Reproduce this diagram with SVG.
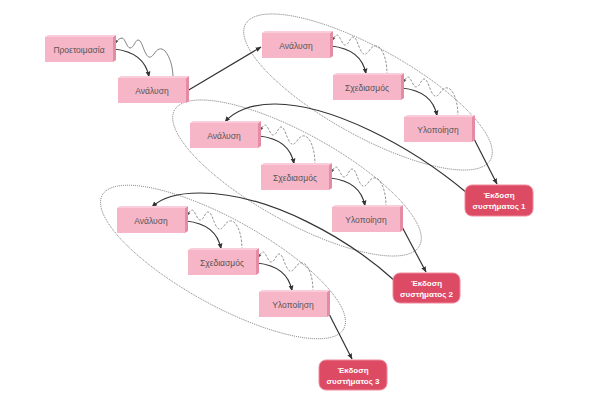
<svg xmlns="http://www.w3.org/2000/svg" width="599" height="400" viewBox="0 0 599 400">
<defs>
<marker id="ah" viewBox="0 0 10 10" refX="9" refY="5" markerWidth="5" markerHeight="5" orient="auto">
<path d="M0,1 L10,5 L0,9 z" fill="#333"/>
</marker>
<marker id="ahs" viewBox="0 0 10 10" refX="9" refY="5" markerWidth="4" markerHeight="4" orient="auto">
<path d="M0,1 L10,5 L0,9 z" fill="#555"/>
</marker>
<g id="box">
<path d="M68,0 L71,-2 L71,23 L68,25 z" fill="#e58ca5"/>
<path d="M0,0 L3,-2 L71,-2 L68,0 z" fill="#f9cdd9"/>
<rect x="0" y="0" width="68" height="25" fill="#f6b6c8"/>
</g>
<g id="pair">
<path class="main" d="M1,13 C20,15 33,24 36,41" marker-end="url(#ah)"/>
</g>
<g id="wave">
<path d="M57,42 C57,31 55,21 50,15 C46,11 42,13 39,18 C35,23 33,22 30,16 C27,9 26,4 23,4 C20,4 19,12 15,12 C12,12 10,2 7,2 C5,2 4,5 3,7" marker-end="url(#ahs)"/>
</g>
</defs>
<style>
.lbl{font-family:"Liberation Sans",Arial,sans-serif;font-size:8.5px;fill:#555;text-anchor:middle}
.rl{font-family:"Liberation Sans",Arial,sans-serif;font-size:8px;font-weight:bold;fill:#fff;text-anchor:middle}
.main{fill:none;stroke:#333;stroke-width:1.2}
.wv{fill:none;stroke:#666;stroke-width:0.8}
.dw{fill:none;stroke:#777;stroke-width:0.8;stroke-dasharray:2.5,1.5}
.ell{fill:none;stroke:#666;stroke-width:0.8;stroke-dasharray:1,1}
.red{fill:#dc4a63;stroke:#f08a9c;stroke-width:1}
</style>
<rect width="599" height="400" fill="#ffffff"/>

<g id="ellipses">
<ellipse class="ell" cx="368" cy="92" rx="140" ry="44" transform="rotate(29 368 92)"/>
<ellipse class="ell" cx="297" cy="178" rx="140" ry="44" transform="rotate(29 297 178)"/>
<ellipse class="ell" cx="223" cy="262" rx="138" ry="43" transform="rotate(29 223 262)"/>
</g>

<g id="connectors">
<g transform="translate(113,36)"><use href="#pair"/><g class="wv"><path d="M60,42 C60,31 57,21 52,15 C48,11 44,13 41,18 C37,23 35,22 32,16 C29,9 28,4 25,4 C22,4 21,12 17,12 C14,12 12,2 9,2 C6,2 4,5 3,7" marker-end="url(#ahs)"/></g></g>
<path class="main" d="M187,91 L261,47" marker-end="url(#ah)"/>
<g transform="translate(330,33)"><use href="#pair"/><g class="dw"><use href="#wave"/></g></g>
<g transform="translate(401,75)"><use href="#pair"/><g class="dw"><use href="#wave"/></g></g>
<path class="main" d="M471,133 L497,184" marker-end="url(#ah)"/>
<g transform="translate(258,123)"><use href="#pair"/><g class="dw"><use href="#wave"/></g></g>
<g transform="translate(329,165)"><use href="#pair"/><g class="dw"><use href="#wave"/></g></g>
<path class="main" d="M400,223 L426,272" marker-end="url(#ah)"/>
<g transform="translate(185,208)"><use href="#pair"/><g class="dw"><use href="#wave"/></g></g>
<g transform="translate(256,250)"><use href="#pair"/><g class="dw"><use href="#wave"/></g></g>
<path class="main" d="M327,310 L352,359" marker-end="url(#ah)"/>
<path class="main" d="M467,193 C410,145 330,104 275,104 C250,104 233,112 225,122" marker-end="url(#ah)"/>
<path class="main" d="M395,281 C350,240 270,193 200,193 C176,193 160,199 152,207" marker-end="url(#ah)"/>
</g>

<g id="n-prep"><use href="#box" transform="translate(45,37)"/><text class="lbl" x="79" y="52.5">Προετοιμασία</text></g>
<g id="n-an0"><use href="#box" transform="translate(118,78)"/><text class="lbl" x="152" y="93.5">Ανάλυση</text></g>

<g id="n-an1"><use href="#box" transform="translate(262,33)"/><text class="lbl" x="296" y="48.5">Ανάλυση</text></g>
<g id="n-sx1"><use href="#box" transform="translate(333,75)"/><text class="lbl" x="367" y="90.5">Σχεδιασμός</text></g>
<g id="n-yl1"><use href="#box" transform="translate(404,117)"/><text class="lbl" x="438" y="132.5">Υλοποίηση</text></g>

<g id="n-an2"><use href="#box" transform="translate(190,123)"/><text class="lbl" x="224" y="138.5">Ανάλυση</text></g>
<g id="n-sx2"><use href="#box" transform="translate(261,165)"/><text class="lbl" x="295" y="180.5">Σχεδιασμός</text></g>
<g id="n-yl2"><use href="#box" transform="translate(332,207)"/><text class="lbl" x="366" y="222.5">Υλοποίηση</text></g>

<g id="n-an3"><use href="#box" transform="translate(117,208)"/><text class="lbl" x="151" y="223.5">Ανάλυση</text></g>
<g id="n-sx3"><use href="#box" transform="translate(188,250)"/><text class="lbl" x="222" y="265.5">Σχεδιασμός</text></g>
<g id="n-yl3"><use href="#box" transform="translate(259,292)"/><text class="lbl" x="293" y="307.5">Υλοποίηση</text></g>

<g id="n-rel1"><rect class="red" x="465" y="185" width="68" height="31" rx="7"/><text class="rl" x="499" y="198">Έκδοση</text><text class="rl" x="499" y="208.5">συστήματος 1</text></g>
<g id="n-rel2"><rect class="red" x="393" y="273" width="67" height="30" rx="7"/><text class="rl" x="426.5" y="286">Έκδοση</text><text class="rl" x="426.5" y="296.5">συστήματος 2</text></g>
<g id="n-rel3"><rect class="red" x="319" y="360" width="68" height="30" rx="7"/><text class="rl" x="353" y="373">Έκδοση</text><text class="rl" x="353" y="383.5">συστήματος 3</text></g>
</svg>
